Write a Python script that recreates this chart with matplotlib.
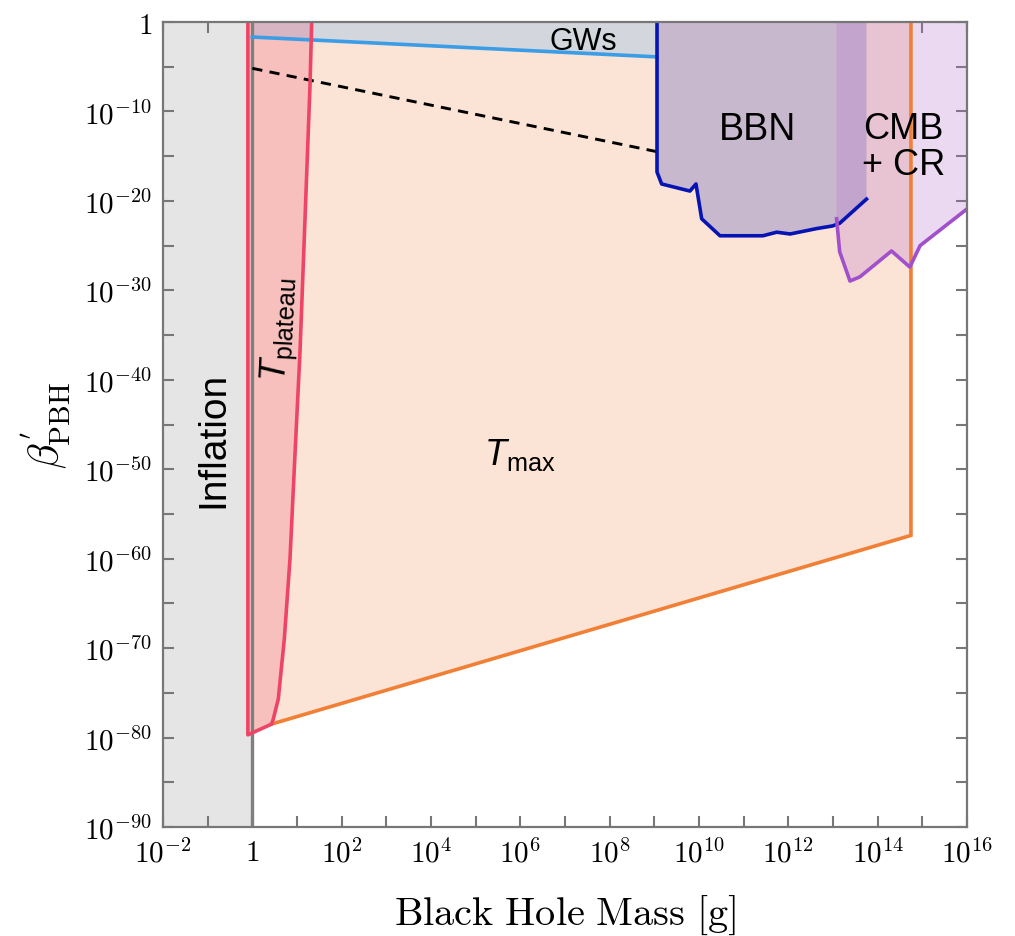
import numpy as np
import matplotlib
matplotlib.use("Agg")
import matplotlib.pyplot as plt
from matplotlib.ticker import FixedLocator, FuncFormatter, NullFormatter

plt.rcParams['mathtext.fontset'] = 'cm'
plt.rcParams['mathtext.rm'] = 'Liberation Sans'
plt.rcParams['mathtext.it'] = 'Liberation Sans:italic'
plt.rcParams['font.family'] = ['Liberation Sans', 'DejaVu Sans']

# everything below is log10(mass / g) and log10(beta')
red_left_logm = -0.1
red_corner_logb = -79.7
plateau_logm = [0.433, 0.469, 0.581, 0.716, 0.843, 0.939, 1.067, 1.179,
                1.291, 1.329]
plateau_logb = [-78.49, -77.93, -75.69, -68.98, -60.04, -49.98, -36.9,
                -22.03, -7.12, 0.0]

tmax_logm = [0.433, 14.745, 14.745]
tmax_logb = [-78.49, -57.4, 0.0]

gw_logm = [0.0, 9.06]
gw_logb = [-1.68, -3.9]

dash_logm = [0.0, 9.06]
dash_logb = [-5.18, -14.5]

bbn_logm = [9.06, 9.06, 9.164, 9.797, 9.932, 10.06, 10.47, 11.43, 11.74,
            12.04, 12.63, 12.99, 13.15, 13.75]
bbn_logb = [0.0, -16.77, -18.11, -18.9, -18.11, -22.0, -23.9, -23.9, -23.5,
            -23.7, -23.1, -22.8, -22.5, -19.8]

cmb_logm = [13.08, 13.15, 13.38, 13.60, 14.31, 14.72, 14.95, 16.0]
cmb_logb = [-22.0, -25.7, -28.96, -28.5, -25.6, -27.4, -25.0, -20.9]

xmin, xmax = -2, 16
ymin, ymax = -90, 0


def p(a):
    return 10.0 ** np.asarray(a, dtype=float)


fig = plt.figure(figsize=(10.15, 9.37), dpi=100)
ax = fig.add_axes([163 / 1015, 1 - 828 / 937, 804 / 1015, 805 / 937])
ax.set_xscale('log')
ax.set_yscale('log')
ax.set_xlim(p(xmin), p(xmax))
ax.set_ylim(p(ymin), p(ymax))

# inflation band
ax.axvspan(p(xmin), p(0), color='#e5e5e5', lw=0, zorder=1)

# T_max region (peach)
peach_x = [red_left_logm] + tmax_logm + [red_left_logm]
peach_y = [red_corner_logb] + tmax_logb + [ymax]
ax.fill(p(peach_x), p(peach_y), color='#fbe3d6', lw=0, zorder=2)

# GWs region
ax.fill(p(gw_logm + gw_logm[::-1]), p(gw_logb + [ymax, ymax]),
        color='#d3d6dc', lw=0, zorder=3)

# BBN region
ax.fill(p(bbn_logm + [bbn_logm[-1]]), p(bbn_logb + [ymax]),
        color='#c8b8cd', lw=0, zorder=4)

# CMB + CR region
ax.fill(p(cmb_logm + [cmb_logm[-1], cmb_logm[0]]), p(cmb_logb + [ymax, ymax]),
        color='#b36bcb', alpha=0.25, lw=0, zorder=5)

# T_plateau region
red_x = [red_left_logm, red_left_logm] + plateau_logm
red_y = [ymax, red_corner_logb] + plateau_logb
ax.fill(p(red_x), p(red_y), color='#ee4466', alpha=0.22, lw=0, zorder=6)

# lines
lw = 2.6
ax.axvline(1, color='#808080', lw=2.4, zorder=7)
ax.plot(p(red_x), p(red_y), color='#ee4466', lw=lw, zorder=9,
        solid_joinstyle='round')
ax.plot(p(tmax_logm), p(tmax_logb), color='#f17f35', lw=lw, zorder=8,
        solid_joinstyle='miter')
ax.plot(p(gw_logm), p(gw_logb), color='#3a9de6', lw=lw, zorder=8)
ax.plot(p(dash_logm), p(dash_logb), color='black', lw=2.1, ls=(0, (3.5, 2.5)),
        zorder=8)
ax.plot(p(bbn_logm), p(bbn_logb), color='#0614b4', lw=lw, zorder=8,
        solid_joinstyle='round')
ax.plot(p(cmb_logm), p(cmb_logb), color='#a24fcb', lw=lw, zorder=8,
        solid_joinstyle='round')

# region labels
ax.text(p(-0.88), p(-46.6), 'Inflation', rotation=90, fontsize=28,
        ha='center', va='center', zorder=10)
ax.text(p(0.64), p(-34.3), r'$T_{\mathrm{plateau}}$', rotation=87,
        fontsize=26, ha='center', va='center', math_fontfamily='custom',
        zorder=10, rotation_mode='anchor')
ax.text(p(5.99), p(-48.3), r'$T_{\mathrm{max}}$', fontsize=26,
        ha='center', va='center', math_fontfamily='custom', zorder=10)
ax.text(p(7.4), p(-2.1), 'GWs', fontsize=22, ha='center', va='center',
        zorder=10)
ax.text(p(11.3), p(-12.0), 'BBN', fontsize=27, ha='center', va='center',
        zorder=10)
ax.text(p(14.57), p(-13.9), 'CMB\n+ CR', fontsize=26, ha='center',
        va='center', linespacing=1.05, zorder=10)

# ticks
def fmt(v, pos):
    e = int(round(np.log10(v)))
    return r'$1$' if e == 0 else r'$10^{%d}$' % e


ax.xaxis.set_major_locator(FixedLocator(p(np.arange(-2, 17, 2))))
ax.xaxis.set_minor_locator(FixedLocator(p(np.arange(-1, 16, 2))))
ax.yaxis.set_major_locator(FixedLocator(p(np.arange(-90, 1, 10))))
ax.yaxis.set_minor_locator(FixedLocator(p(np.arange(-85, 0, 10))))
ax.xaxis.set_major_formatter(FuncFormatter(fmt))
ax.yaxis.set_major_formatter(FuncFormatter(fmt))
ax.xaxis.set_minor_formatter(NullFormatter())
ax.yaxis.set_minor_formatter(NullFormatter())
ax.tick_params(which='both', direction='in', length=8, width=1.5,
               color='#777777', top=True, right=True, labelsize=21, pad=8)

for s in ax.spines.values():
    s.set_color('#777777')
    s.set_linewidth(1.6)
    s.set_zorder(20)

ax.set_xlabel(r'$\mathrm{Black\ Hole\ Mass\ [g]}$', fontsize=29, labelpad=18)
ax.set_ylabel(r"$\beta^{'}_{\mathrm{PBH}}$", fontsize=30, labelpad=8)

fig.savefig('out.png', dpi=100)
